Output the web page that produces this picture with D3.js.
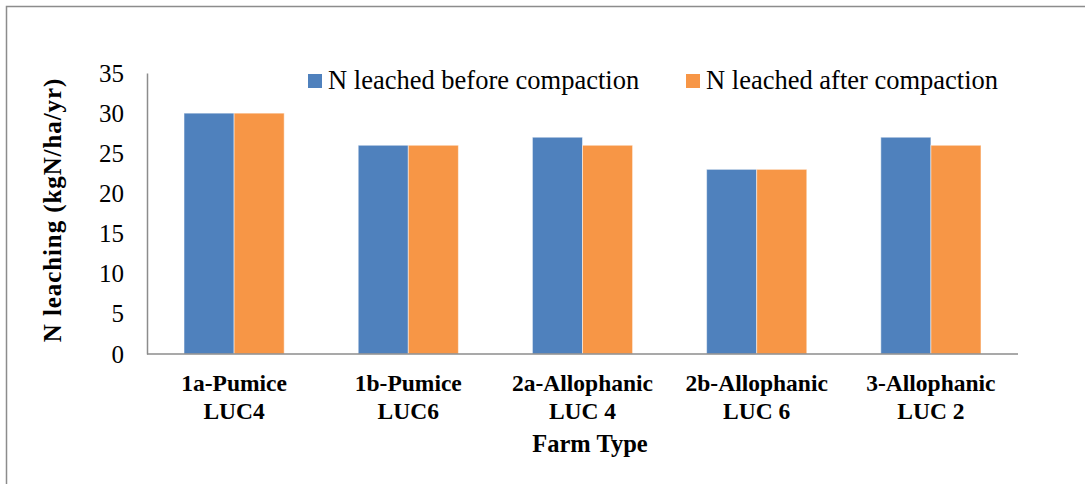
<!DOCTYPE html>
<html lang="en">
<head>
<meta charset="UTF-8">
<title>N leaching by farm type</title>
<script src="https://d3js.org/d3.v7.min.js"></script>
<style>
  body { margin: 0; background: #fff; }
  text { font-family: "Liberation Serif", "Times New Roman", serif; fill: #000; }
</style>
</head>
<body>
<svg id="chart" width="1085" height="484"></svg>
<script>
  // data
  var farmLine1 = ["1a-Pumice", "1b-Pumice", "2a-Allophanic", "2b-Allophanic", "3-Allophanic"];
  var farmLine2 = ["LUC4", "LUC6", "LUC 4", "LUC 6", "LUC 2"];
  var seriesNames = ["N leached before compaction", "N leached after compaction"];
  var beforeVals = [30, 26, 27, 23, 27];
  var afterVals = [30, 26, 26, 23, 26];
  var yTicks = [0, 5, 10, 15, 20, 25, 30, 35];
  var colors = ["#4f81bd", "#f79646"];

  var svg = d3.select("#chart");

  // outer frame (runs off the right and bottom edge)
  svg.append("rect")
    .attr("x", 6.5).attr("y", 6.5)
    .attr("width", 1090).attr("height", 490)
    .attr("fill", "none")
    .attr("stroke", "#8c8c8c")
    .attr("stroke-width", 1.5);

  var plotL = 147, plotR = 1018, plotT = 73, plotB = 354;

  var x0 = d3.scaleBand()
    .domain(d3.range(farmLine1.length))
    .range([plotL, plotR])
    .paddingInner(0.425)
    .paddingOuter(0.2125);

  var x1 = d3.scaleBand()
    .domain([0, 1])
    .range([0, x0.bandwidth()]);

  var y = d3.scaleLinear()
    .domain([0, 35])
    .range([plotB, plotT]);

  // bars
  var rows = farmLine1.map(function(d, i) { return [beforeVals[i], afterVals[i]]; });
  var groups = svg.append("g")
    .selectAll("g")
    .data(rows)
    .enter()
    .append("g")
      .attr("transform", function(d, i) { return "translate(" + x0(i) + ",0)"; });

  groups.selectAll("rect")
    .data(function(d) { return d; })
    .enter()
    .append("rect")
      .attr("x", function(d, j) { return x1(j); })
      .attr("y", function(d) { return y(d); })
      .attr("width", x1.bandwidth())
      .attr("height", function(d) { return y(0) - y(d); })
      .attr("fill", function(d, j) { return colors[j]; })
      .attr("stroke", "#ffffff")
      .attr("stroke-opacity", 0.5)
      .attr("stroke-width", 1);

  // y axis
  var yAxis = svg.append("g")
    .attr("transform", "translate(" + plotL + ",0)")
    .call(d3.axisLeft(y).tickValues(yTicks).tickSize(0).tickPadding(23));
  yAxis.select(".domain").attr("stroke", "#8c8c8c").attr("stroke-width", 1.5);
  yAxis.selectAll("text")
    .style("font-family", "Liberation Serif")
    .style("font-size", "25px")
    .attr("fill", "#000");

  // x axis line
  svg.append("line")
    .attr("x1", plotL).attr("x2", plotR)
    .attr("y1", plotB).attr("y2", plotB)
    .attr("stroke", "#8c8c8c")
    .attr("stroke-width", 1.5);

  // category labels
  var xl = svg.append("g").selectAll("text")
    .data(farmLine1)
    .enter()
    .append("text")
      .attr("text-anchor", "middle")
      .attr("x", function(d, i) { return x0(i) + x0.bandwidth() / 2; })
      .attr("y", 391)
      .style("font-size", "23.5px")
      .style("font-weight", "bold");
  xl.append("tspan").text(function(d) { return d; });
  xl.append("tspan")
    .attr("x", function(d, i) { return x0(i) + x0.bandwidth() / 2; })
    .attr("dy", 28)
    .text(function(d, i) { return farmLine2[i]; });

  // axis titles
  svg.append("text")
    .attr("x", 590).attr("y", 452)
    .attr("text-anchor", "middle")
    .style("font-size", "24.5px")
    .style("font-weight", "bold")
    .text("Farm Type");

  svg.append("text")
    .attr("transform", "translate(61,210) rotate(-90)")
    .attr("text-anchor", "middle")
    .style("font-size", "25px")
    .style("font-weight", "bold")
    .style("letter-spacing", "0.9px")
    .text("N leaching (kgN/ha/yr)");

  // legend
  var legendX = [308, 686];
  var legend = svg.append("g").selectAll("g")
    .data(seriesNames)
    .enter()
    .append("g")
      .attr("transform", function(d, i) { return "translate(" + legendX[i] + ",74)"; });
  legend.append("rect")
    .attr("width", 14).attr("height", 14)
    .attr("fill", function(d, i) { return colors[i]; });
  legend.append("text")
    .attr("x", 20).attr("y", 15)
    .style("font-size", "26.5px")
    .text(function(d) { return d; });
</script>
</body>
</html>
